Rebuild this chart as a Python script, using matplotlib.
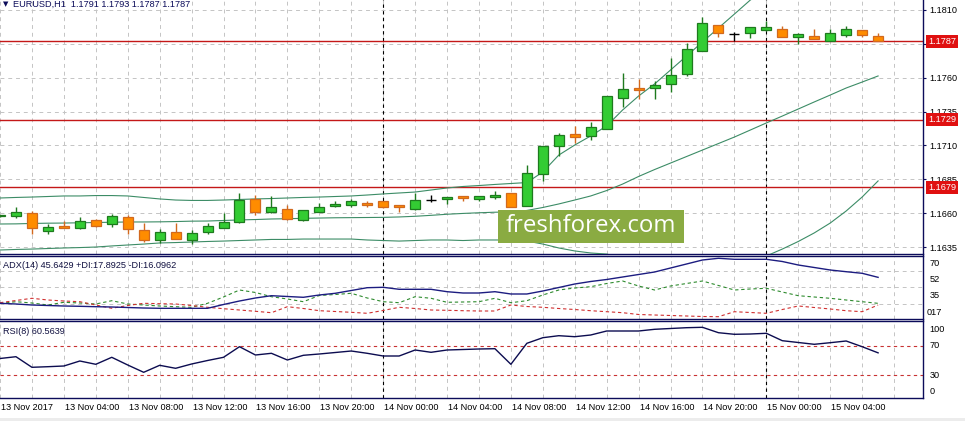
import matplotlib
matplotlib.use("Agg")
import matplotlib.pyplot as plt
from matplotlib.patches import Rectangle
from matplotlib.lines import Line2D
from matplotlib.transforms import offset_copy
import numpy as np

plt.rcParams['font.family'] = ['Liberation Sans', 'DejaVu Sans']

# ---------------- data ----------------
hours = list(range(56))  # hours since 13 Nov 2017 00:00 (H1 bars)

open_ = [1.16576, 1.16577, 1.16599, 1.16471, 1.16507, 1.16488, 1.16552, 1.16518, 1.16570, 1.16474,
         1.16404, 1.16459, 1.16404, 1.16463, 1.16493, 1.16537, 1.16702, 1.16611, 1.16633, 1.16547,
         1.16611, 1.16655, 1.16658, 1.16675, 1.16688, 1.16660, 1.16633, 1.16697, 1.16702, 1.16727,
         1.16702, 1.16717, 1.16747, 1.16655, 1.16887, 1.17098, 1.17182, 1.17172, 1.17219, 1.17448,
         1.17522, 1.17522, 1.17550, 1.17628, 1.17800, 1.17989, 1.17921, 1.17928, 1.17952, 1.17958,
         1.17903, 1.17908, 1.17871, 1.17918, 1.17952, 1.17910]
high_ = [1.16587, 1.16646, 1.16616, 1.16518, 1.16544, 1.16572, 1.16557, 1.16596, 1.16586, 1.16527,
         1.16485, 1.16527, 1.16478, 1.16525, 1.16601, 1.16747, 1.16734, 1.16727, 1.16658, 1.16626,
         1.16673, 1.16690, 1.16705, 1.16692, 1.16692, 1.16660, 1.16751, 1.16734, 1.16722, 1.16730,
         1.16727, 1.16761, 1.16747, 1.16953, 1.17094, 1.17194, 1.17244, 1.17273, 1.17465, 1.17633,
         1.17588, 1.17578, 1.17743, 1.17854, 1.18046, 1.17989, 1.17940, 1.17972, 1.18021, 1.17982,
         1.17930, 1.17958, 1.17958, 1.17982, 1.17952, 1.17930]
low_ = [1.16572, 1.16567, 1.16444, 1.16444, 1.16488, 1.16485, 1.16498, 1.16498, 1.16444, 1.16385,
        1.16380, 1.16407, 1.16372, 1.16444, 1.16490, 1.16530, 1.16586, 1.16603, 1.16550, 1.16544,
        1.16611, 1.16648, 1.16643, 1.16643, 1.16638, 1.16611, 1.16623, 1.16682, 1.16670, 1.16690,
        1.16688, 1.16702, 1.16643, 1.16655, 1.16840, 1.17022, 1.17120, 1.17143, 1.17219, 1.17382,
        1.17441, 1.17441, 1.17497, 1.17613, 1.17800, 1.17903, 1.17873, 1.17896, 1.17945, 1.17898,
        1.17847, 1.17886, 1.17871, 1.17898, 1.17903, 1.17870]
close_ = [1.16583, 1.16606, 1.16488, 1.16496, 1.16493, 1.16542, 1.16503, 1.16577, 1.16485, 1.16400,
          1.16463, 1.16412, 1.16456, 1.16503, 1.16533, 1.16695, 1.16606, 1.16643, 1.16555, 1.16626,
          1.16643, 1.16670, 1.16688, 1.16663, 1.16643, 1.16648, 1.16699, 1.16697, 1.16717, 1.16714,
          1.16727, 1.16734, 1.16643, 1.16894, 1.17094, 1.17175, 1.17160, 1.17234, 1.17465, 1.17515,
          1.17512, 1.17544, 1.17620, 1.17810, 1.18006, 1.17928, 1.17921, 1.17972, 1.17972, 1.17898,
          1.17923, 1.17886, 1.17928, 1.17958, 1.17918, 1.17870]

bb_upper = [1.16712, 1.16716, 1.16719, 1.16723, 1.16727, 1.16727, 1.16730, 1.16730, 1.16727, 1.16716,
            1.16705, 1.16697, 1.16694, 1.16694, 1.16697, 1.16701, 1.16705, 1.16708, 1.16712, 1.16716,
            1.16719, 1.16723, 1.16727, 1.16734, 1.16742, 1.16749, 1.16756, 1.16771, 1.16786, 1.16797,
            1.16804, 1.16812, 1.16819, 1.16826, 1.16904, 1.17029, 1.17103, 1.17170, 1.17244, 1.17362,
            1.17465, 1.17554, 1.17657, 1.17760, 1.17864, 1.17967, 1.18070, 1.18174, 1.18248, 1.18299,
            1.18347, 1.18388, 1.18417, 1.18432, 1.18417, 1.18388]
bb_middle = [1.16520, 1.16521, 1.16524, 1.16526, 1.16527, 1.16529, 1.16531, 1.16533, 1.16535, 1.16535,
             1.16536, 1.16538, 1.16541, 1.16542, 1.16546, 1.16550, 1.16553, 1.16557, 1.16559, 1.16562,
             1.16564, 1.16566, 1.16567, 1.16568, 1.16569, 1.16572, 1.16577, 1.16584, 1.16592, 1.16598,
             1.16603, 1.16607, 1.16609, 1.16620, 1.16642, 1.16668, 1.16697, 1.16727, 1.16767, 1.16815,
             1.16871, 1.16922, 1.16970, 1.17018, 1.17066, 1.17114, 1.17162, 1.17214, 1.17266, 1.17317,
             1.17369, 1.17421, 1.17472, 1.17524, 1.17568, 1.17613]
bb_lower = [1.16328, 1.16332, 1.16335, 1.16339, 1.16343, 1.16346, 1.16350, 1.16358, 1.16365, 1.16372,
            1.16380, 1.16383, 1.16387, 1.16391, 1.16394, 1.16398, 1.16402, 1.16406, 1.16406, 1.16409,
            1.16409, 1.16409, 1.16409, 1.16402, 1.16398, 1.16394, 1.16398, 1.16402, 1.16402, 1.16398,
            1.16402, 1.16402, 1.16402, 1.16394, 1.16372, 1.16343, 1.16321, 1.16306, 1.16298, 1.16269,
            1.16284, 1.16284, 1.16284, 1.16276, 1.16269, 1.16261, 1.16254, 1.16254, 1.16284, 1.16335,
            1.16391, 1.16454, 1.16527, 1.16616, 1.16719, 1.16838]

level_lines = [1.1787, 1.1729, 1.1679]
price_grid = [1.1635, 1.1660, 1.1685, 1.1710, 1.1735, 1.1760, 1.1785, 1.1810]
price_labels = [1.1635, 1.1660, 1.1685, 1.1710, 1.1735, 1.1760, 1.1810]

adx = [17.93, 17.18, 16.12, 15.58, 15.05, 14.73, 14.30, 13.98, 13.45, 12.91,
       12.59, 12.59, 12.59, 12.59, 16.65, 20.38, 23.59, 26.04, 25.19, 24.33,
       26.79, 28.60, 31.59, 34.58, 35.01, 32.87, 32.87, 32.87, 30.31, 28.92,
       28.92, 30.31, 27.86, 27.86, 31.06, 34.79, 38.53, 41.20, 43.33, 46.00,
       48.67, 51.33, 55.60, 59.87, 64.14, 65.96, 64.89, 64.89, 64.89, 62.54,
       58.80, 56.14, 53.47, 51.65, 49.95, 45.64]
plus_di = [17.72, 19.64, 18.25, 16.11, 19.00, 18.25, 17.18, 20.70, 17.18, 16.11,
           15.05, 14.30, 13.66, 17.93, 24.65, 32.12, 29.45, 24.97, 22.52, 19.64,
           26.25, 27.32, 28.60, 23.59, 19.64, 18.57, 24.97, 23.27, 19.00, 19.32,
           19.64, 23.27, 18.57, 20.70, 26.79, 32.12, 34.26, 35.64, 39.06, 41.73,
           36.39, 32.12, 36.39, 39.06, 41.73, 36.93, 32.12, 33.19, 33.94, 29.99,
           26.04, 24.65, 23.27, 21.45, 19.64, 17.89]
minus_di = [18.57, 20.92, 23.27, 21.45, 20.38, 19.64, 16.11, 12.59, 15.58, 17.93,
            17.50, 17.18, 15.58, 13.66, 12.17, 10.78, 9.39, 7.90, 14.30, 12.38,
            10.03, 9.18, 8.32, 7.26, 10.25, 13.66, 12.38, 10.78, 10.46, 10.03,
            9.71, 9.71, 16.11, 14.51, 13.66, 12.38, 11.31, 10.03, 8.96, 7.90,
            5.98, 5.44, 4.91, 4.38, 3.84, 3.63, 8.96, 8.11, 7.26, 11.31,
            15.05, 13.45, 11.85, 10.03, 8.96, 16.10]
adx_levels = [70, 52, 35, 17]
adx_level_texts = ["70", "52", "35", "017"]  # the "0" label sits on top of "17" in the original

rsi = [52.76, 55.24, 40.62, 41.45, 42.41, 49.31, 44.76, 54.41, 43.79, 33.72,
       43.38, 39.24, 45.17, 50.00, 54.41, 69.03, 57.59, 59.93, 50.69, 57.17,
       58.97, 61.03, 63.10, 59.93, 56.21, 56.21, 64.48, 61.31, 64.48, 65.17,
       65.86, 66.28, 44.76, 73.72, 81.45, 84.21, 82.83, 85.17, 90.69, 90.69,
       90.69, 93.03, 94.14, 95.24, 95.79, 88.34, 86.14, 86.55, 87.52, 77.31,
       74.83, 72.35, 74.55, 76.90, 69.03, 60.56]
rsi_levels = [70, 30]
rsi_labels = [100, 70, 30, 0]

time_label_hours = list(range(0, 56, 4))
time_labels = ["13 Nov 2017", "13 Nov 04:00", "13 Nov 08:00", "13 Nov 12:00", "13 Nov 16:00",
               "13 Nov 20:00", "14 Nov 00:00", "14 Nov 04:00", "14 Nov 08:00", "14 Nov 12:00",
               "14 Nov 16:00", "14 Nov 20:00", "15 Nov 00:00", "15 Nov 04:00"]
day_separators = [24, 48]

title = "EURUSD,H1  1.1791 1.1793 1.1787 1.1787"
adx_title = "ADX(14) 45.6429 +DI:17.8925 -DI:16.0962"
rsi_title = "RSI(8) 60.5639"

# ---------------- style ----------------
W, H, DPI = 965, 421, 100
NAVY = '#0c0c5a'
GRID = '#c4c4c4'
GRID_LS = (0, (4, 4))
BULL_FILL, BULL_EDGE = '#33cc33', '#1e7a1e'
BEAR_FILL, BEAR_EDGE = '#ff8c00', '#d2691e'
BB_COLOR = '#3c8c66'
LEVEL_RED = '#c41818'
LABEL_RED = '#e01010'
FS = 6.6

fig = plt.figure(figsize=(W / DPI, H / DPI), dpi=DPI, facecolor='white')


def frac(x0, y0, x1, y1):
    return [x0 / W, 1 - y1 / H, (x1 - x0) / W, (y1 - y0) / H]


XR = 922.5
ax_m = fig.add_axes(frac(0, 0, XR, 253.5))
ax_a = fig.add_axes(frac(0, 255.5, XR, 318.5))
ax_r = fig.add_axes(frac(0, 321.0, XR, 398.0))

x_lo, x_hi = 2 / 16, (XR + 2) / 16
for ax in (ax_m, ax_a, ax_r):
    ax.set_xlim(x_lo, x_hi)
    ax.set_facecolor('white')
    for s in ax.spines.values():
        s.set_visible(False)
    ax.set_xticks(range(0, 58, 2))
    ax.tick_params(axis='x', length=0, labelbottom=False)
    ax.xaxis.grid(True, color=GRID, linestyle=GRID_LS, linewidth=0.7)
    ax.set_axisbelow(True)
    for d in day_separators:
        ax.axvline(d, color='black', linestyle=(0, (3, 3)), linewidth=0.8, zorder=2)

# spines (navy panel borders)
ax_m.spines['bottom'].set_visible(True)
for ax in (ax_a, ax_r):
    ax.spines['top'].set_visible(True)
    ax.spines['bottom'].set_visible(True)
for ax in (ax_m, ax_a, ax_r):
    for s in ('top', 'bottom'):
        ax.spines[s].set_color(NAVY)
        ax.spines[s].set_linewidth(1.0)
fig.add_artist(Line2D([XR / W, XR / W], [1 - 398 / H, 1.0], color=NAVY, linewidth=1.0))

# ---------------- main price panel ----------------
ax_m.set_ylim(1.181738 - 0.00007383 * 253.5, 1.181738)
ax_m.yaxis.tick_right()
ax_m.set_yticks(price_grid)
ax_m.set_yticklabels([f"{p:.4f}" if p in price_labels else "" for p in price_grid])
ax_m.tick_params(axis='y', length=2.2, pad=3.0, labelsize=FS, color=NAVY, labelcolor='black')
ax_m.yaxis.grid(True, color=GRID, linestyle=GRID_LS, linewidth=0.7)

hrs = np.array(hours)
ax_m.plot(hrs, bb_upper, color=BB_COLOR, linewidth=0.8, zorder=3)
ax_m.plot(hrs, bb_middle, color=BB_COLOR, linewidth=0.8, zorder=3)
ax_m.plot(hrs, bb_lower, color=BB_COLOR, linewidth=0.8, zorder=3)

for lv in level_lines:
    ax_m.axhline(lv, color=LEVEL_RED, linewidth=1.0, zorder=2.6)

BW = 10 / 16
for h, o, hi, lo, c in zip(hours, open_, high_, low_, close_):
    if c > o:
        fc, ec = BULL_FILL, BULL_EDGE
    elif c < o:
        fc, ec = BEAR_FILL, BEAR_EDGE
    else:
        fc, ec = 'black', 'black'
    ax_m.vlines(h, lo, hi, color=ec, linewidth=1.0, zorder=4)
    if c != o:
        ax_m.add_patch(Rectangle((h - BW / 2, min(o, c)), BW, abs(c - o),
                                 facecolor=fc, edgecolor=ec, linewidth=0.9, zorder=5))
    else:
        ax_m.hlines(o, h - BW / 2, h + BW / 2, color=ec, linewidth=1.0, zorder=5)

ytr = ax_m.get_yaxis_transform()
for lv in level_lines:
    t = offset_copy(ytr, fig=fig, x=5.5, y=0, units='dots')
    ax_m.text(1.0, lv, f"{lv:.4f}", transform=t, ha='left', va='center', fontsize=FS,
              color='white', zorder=20, clip_on=False,
              bbox=dict(boxstyle='square,pad=0.22', facecolor=LABEL_RED, edgecolor='none'))

# title
fig.text(3 / W, 1 - 4.5 / H, "\u25BC", fontsize=5, color=NAVY, ha='left', va='center',
         family=['DejaVu Sans'])
fig.text(13 / W, 1 - 4.5 / H, title, fontsize=FS, color=NAVY, ha='left', va='center')

# watermark
fig.add_artist(Rectangle((498 / W, 1 - 243 / H), (684 - 498) / W, (243 - 210) / H,
                         transform=fig.transFigure, facecolor='#8aab42', edgecolor='none', zorder=10))
fig.text(591 / W, 1 - 226.5 / H, "freshforex.com", fontsize=17.3, color='white',
         ha='center', va='center', family=['Open Sans', 'DejaVu Sans'], zorder=11)

# ---------------- ADX panel ----------------
ax_a.set_ylim((320.1 - 318.5) / 0.937, (320.1 - 255.5) / 0.937)
ax_a.set_yticks(adx_levels[1:])
ax_a.tick_params(axis='y', length=0, labelleft=False, labelright=False)
ax_a.yaxis.grid(True, color=GRID, linestyle=GRID_LS, linewidth=0.7)
ax_a.plot(hrs, adx, color='#1c1c80', linewidth=1.0, zorder=4)
ax_a.plot(hrs, plus_di, color='#2e8b2e', linewidth=0.8, linestyle=(0, (3, 2.5)), zorder=3)
ax_a.plot(hrs, minus_di, color='#d03030', linewidth=0.8, linestyle=(0, (3, 2.5)), zorder=3)
atr = ax_a.get_yaxis_transform()
for lv, txt in zip(adx_levels, adx_level_texts):
    xo = 7.0 if len(txt) == 2 else 4.0
    t = offset_copy(atr, fig=fig, x=xo, y=-8.5, units='dots')
    ax_a.text(1.0, lv, txt, transform=t, ha='left', va='center', fontsize=FS,
              color='black', clip_on=False)
ax_a.text(3 / XR, 1 - (265 - 255.5) / (318.5 - 255.5), adx_title, transform=ax_a.transAxes,
          fontsize=FS, color='#101040', ha='left', va='center')

# ---------------- RSI panel ----------------
ax_r.set_ylim(100 - (398 - 324.25) / 0.725, 100 - (321 - 324.25) / 0.725)
ax_r.set_yticks([])
for lv in rsi_levels:
    ax_r.axhline(lv, color='#c83232', linewidth=0.8, linestyle=(0, (3, 3)), zorder=2)
ax_r.plot(hrs, rsi, color='#0c0c50', linewidth=1.0, zorder=4)
rtr = ax_r.get_yaxis_transform()
for lv in rsi_labels:
    dy = -5 if lv == 100 else (5 if lv == 0 else 0)
    t = offset_copy(rtr, fig=fig, x=7.0, y=dy, units='dots')
    ax_r.text(1.0, lv, str(lv), transform=t, ha='left', va='center', fontsize=FS,
              color='black', clip_on=False)
ax_r.text(3 / XR, 1 - (331.7 - 321) / (398 - 321), rsi_title, transform=ax_r.transAxes,
          fontsize=FS, color='#101040', ha='left', va='center')

# time axis labels
xtr = ax_r.get_xaxis_transform()
for h, lab in zip(time_label_hours, time_labels):
    t = offset_copy(xtr, fig=fig, x=1.0, y=-9.0, units='dots')
    ax_r.text(h, 0, lab, transform=t, ha='left', va='center', fontsize=FS,
              color='black', clip_on=False)

fig.add_artist(Rectangle((0, 0), 1, 3.5 / H, transform=fig.transFigure,
                         facecolor='#ececec', edgecolor='none'))

fig.savefig('out.png', dpi=DPI, facecolor='white')
